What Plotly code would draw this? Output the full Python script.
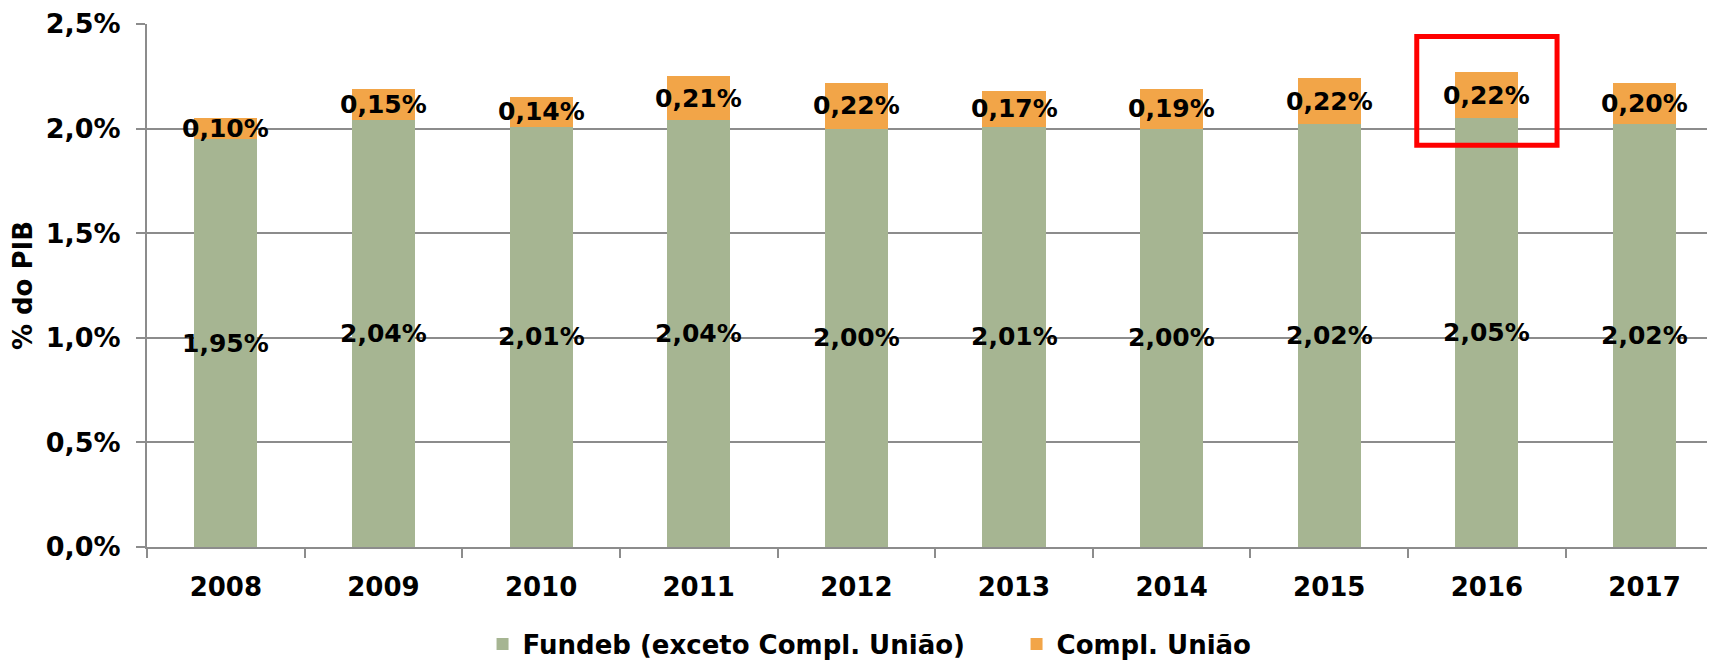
import plotly.graph_objects as go

years = ["2008", "2009", "2010", "2011", "2012", "2013", "2014", "2015", "2016", "2017"]
fundeb = [1.95, 2.04, 2.01, 2.04, 2.00, 2.01, 2.00, 2.02, 2.05, 2.02]
compl = [0.10, 0.15, 0.14, 0.21, 0.22, 0.17, 0.19, 0.22, 0.22, 0.20]
ytick_vals = [0.0, 0.5, 1.0, 1.5, 2.0, 2.5]
ytick_text = ["0,0%", "0,5%", "1,0%", "1,5%", "2,0%", "2,5%"]
series_names = ["Fundeb (exceto Compl. União)", "Compl. União"]
highlight_year = "2016"

GREEN = "#a6b592"
ORANGE = "#f2a548"
GRID = "#8c8c8c"
FONT = "DejaVu Sans"


def fmt(v):
    return "<b>" + f"{v:.2f}".replace(".", ",") + "%</b>"


fig = go.Figure()
fig.add_trace(go.Bar(x=years, y=fundeb, name="<b>" + series_names[0] + "</b>",
                     marker=dict(color=GREEN, line=dict(width=0)), width=0.4))
fig.add_trace(go.Bar(x=years, y=compl, name="<b>" + series_names[1] + "</b>",
                     marker=dict(color=ORANGE, line=dict(width=0)), width=0.4))

annotations = []
for i, (f, c) in enumerate(zip(fundeb, compl)):
    annotations.append(dict(x=i, y=f / 2, text=fmt(f), showarrow=False, xref="x", yref="y",
                            yanchor="middle", font=dict(family=FONT, size=25, color="black")))
    annotations.append(dict(x=i, y=f + c / 2, text=fmt(c), showarrow=False, xref="x", yref="y",
                            yanchor="middle", font=dict(family=FONT, size=25, color="black")))

hi = years.index(highlight_year)
shapes = [dict(type="rect", xref="x", yref="y",
               x0=hi - 0.445, x1=hi + 0.445,
               y0=fundeb[hi] - 0.13, y1=fundeb[hi] + compl[hi] + 0.17,
               line=dict(color="#ff0000", width=5), fillcolor="rgba(0,0,0,0)")]

fig.update_layout(
    barmode="stack",
    width=1707, height=653,
    margin=dict(l=139, r=0, t=16, b=114, autoexpand=False),
    plot_bgcolor="white", paper_bgcolor="white",
    font=dict(family=FONT, color="black"),
    annotations=annotations,
    shapes=shapes,
    showlegend=True,
    legend=dict(orientation="h", xref="container", yref="container", x=0.278, xanchor="left",
                y=0.026, yanchor="middle", font=dict(family=FONT, size=26, color="black"),
                entrywidth=489, traceorder="normal"),
)
fig.update_xaxes(
    type="category", range=[-0.5, 9.447],
    showline=True, linecolor=GRID, linewidth=2,
    ticks="outside", tickson="boundaries", ticklen=9, tickwidth=2, tickcolor=GRID,
    tickfont=dict(family=FONT, size=26, weight="bold", color="black"),
    ticklabelstandoff=16, showgrid=False,
)
fig.update_yaxes(
    range=[0, 2.5], tickvals=ytick_vals, ticktext=ytick_text,
    showline=True, linecolor=GRID, linewidth=2,
    ticks="outside", ticklen=9, tickwidth=2, tickcolor=GRID,
    showgrid=True, gridcolor=GRID, gridwidth=2,
    zeroline=False, ticklabeloverflow="allow",
    tickfont=dict(family=FONT, size=27, weight="bold", color="black"),
    ticklabelstandoff=10,
    title=dict(text="<b>% do PIB</b>", font=dict(family=FONT, size=26, color="black"), standoff=13),
)

fig.write_html("out.html")
